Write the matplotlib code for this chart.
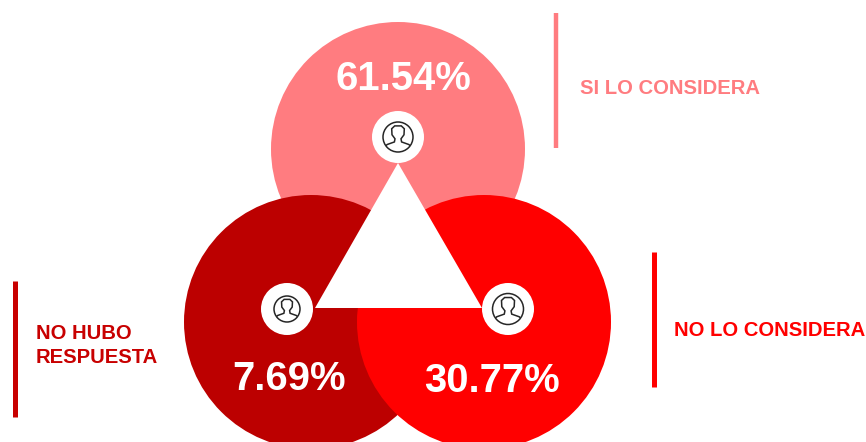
import matplotlib
matplotlib.use("Agg")
import matplotlib.pyplot as plt
from matplotlib.patches import Circle, Polygon, PathPatch
from matplotlib.path import Path

plt.rcParams['font.family'] = ['Liberation Sans', 'DejaVu Sans']

porcentajes = ["61.54%", "7.69%", "30.77%"]
etiquetas = ["SI LO CONSIDERA", "NO HUBO\nRESPUESTA", "NO LO CONSIDERA"]
colores = ["#FF7C80", "#BC0000", "#FF0000"]
colores_etq = ["#FF7C80", "#C80000", "#FF0000"]

# posiciones en pixeles de la imagen
centros = [(398, 149), (311, 322), (484, 322)]
radio = 127
iconos = [(398, 137), (287, 309), (508, 309)]
radios_icono = [15, 13, 15.5]
pos_pct = [(403, 79), (289, 379), (492, 381)]
pos_etq = [(580, 89), (36, 345.5), (674, 330)]
barras = [(555.5, 13, 148, 3.2), (14.7, 281, 417, 3.6), (654, 252, 387, 3.6)]
triangulo = [(398, 163), (315, 308), (482, 308)]


def dibuja_icono(ax, x, y, r):
    ax.add_patch(Circle((x, y), 26, fc="white", ec="none", zorder=5))
    aro = Circle((x, y), r, fc="none", ec="#262626", lw=1.1, zorder=7)
    ax.add_patch(aro)
    # cabeza y hombros, en unidades del radio
    puntos = [(-1.0, 0.75), (-0.72, 0.5), (-0.24, 0.33), (-0.2, 0.12),
              (-0.4, -0.15), (-0.42, -0.55), (-0.22, -0.74), (0.22, -0.74),
              (0.42, -0.55), (0.4, -0.15), (0.2, 0.12), (0.24, 0.33),
              (0.72, 0.5), (1.0, 0.75)]
    cuerpo = Path([(x + a * r, y + b * r) for a, b in puntos])
    figura = PathPatch(cuerpo, fc="none", ec="#262626", lw=1.1, zorder=6)
    ax.add_patch(figura)
    figura.set_clip_path(aro)


fig = plt.figure(figsize=(8.66, 4.42), dpi=100)
ax = fig.add_axes([0, 0, 1, 1])
ax.set_xlim(0, 866)
ax.set_ylim(442, 0)
ax.axis("off")

for c, col in zip(centros, colores):
    ax.add_patch(Circle(c, radio, fc=col, ec="none", zorder=2))
ax.add_patch(Polygon(triangulo, closed=True, fc="white", ec="none", zorder=4))

for (x, y), r in zip(iconos, radios_icono):
    dibuja_icono(ax, x, y, r)

for (x, y), t in zip(pos_pct, porcentajes):
    ax.text(x, y, t, color="white", fontsize=28.8, fontweight="bold",
            ha="center", va="center", zorder=8)

for (x, y), t, col in zip(pos_etq, etiquetas, colores_etq):
    ax.text(x, y, t, color=col, fontsize=14.6, fontweight="bold",
            ha="left", va="center", linespacing=1.37, zorder=8)

for (x, y0, y1, w), col in zip(barras, colores_etq):
    ax.plot([x, x], [y0, y1], color=col, lw=w, solid_capstyle="butt", zorder=3)

fig.savefig("out.png", dpi=100)
